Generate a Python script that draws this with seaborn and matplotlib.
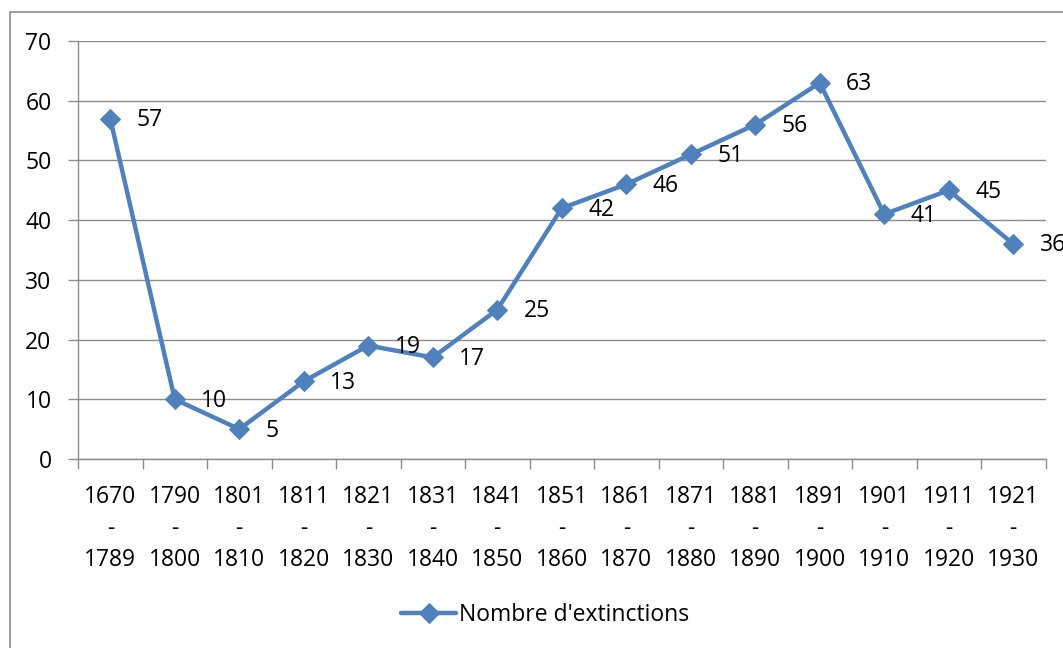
import numpy as np
import pandas as pd
import seaborn as sns
import matplotlib.pyplot as plt
from matplotlib.patches import Rectangle

periods = ["1670\n-\n1789", "1790\n-\n1800", "1801\n-\n1810", "1811\n-\n1820",
           "1821\n-\n1830", "1831\n-\n1840", "1841\n-\n1850", "1851\n-\n1860",
           "1861\n-\n1870", "1871\n-\n1880", "1881\n-\n1890", "1891\n-\n1900",
           "1901\n-\n1910", "1911\n-\n1920", "1921\n-\n1930"]
extinctions = [57, 10, 5, 13, 19, 17, 25, 42, 46, 51, 56, 63, 41, 45, 36]

df = pd.DataFrame({"periode": periods, "n": extinctions})
df["pos"] = np.arange(len(df))

sns.set_style("white")
plt.rcParams['font.family'] = ['Open Sans', 'DejaVu Sans']
plt.rcParams['text.color'] = 'black'
plt.rcParams['xtick.color'] = 'black'
plt.rcParams['ytick.color'] = 'black'

blue = "#4F81BD"
grey = "#8C8C8C"
fs = 16.5

fig = plt.figure(figsize=(10.63, 6.48), dpi=100)
ax = fig.add_axes([78/1063, 1-459/648, (1045.5-78)/1063, (459-41)/648])

# frame around the chart (cropped on the right and bottom)
fig.patches.append(Rectangle((10/1063, -0.1), 1.2, 1 - 12/648 + 0.1,
                             transform=fig.transFigure, fill=False,
                             edgecolor=grey, linewidth=1.2))

sns.lineplot(data=df, x="pos", y="n", ax=ax, color=blue, linewidth=3.2,
             marker="D", markersize=10, markeredgecolor=blue,
             label="Nombre d'extinctions")

for x, y in zip(df["pos"], df["n"]):
    ax.annotate(str(y), (x, y), xytext=(19, -1), textcoords="offset points",
                ha="left", va="center", fontsize=fs, color="black",
                annotation_clip=False)

ax.set_xlim(-0.5, len(df) - 0.5)
ax.set_ylim(0, 70)
ax.set_yticks(range(0, 71, 10))
ax.yaxis.grid(True, color=grey, linewidth=1.0)
ax.set_axisbelow(True)

ax.set_xticks(df["pos"])
ax.set_xticklabels(df["periode"], linespacing=1.40)
ax.set_xticks(np.arange(-0.5, len(df), 1), minor=True)
ax.tick_params(axis="x", which="major", length=0, pad=19, labelsize=fs,
               labelcolor="black")
ax.tick_params(axis="x", which="minor", length=7, color=grey, width=1.0,
               direction="out", bottom=True)
ax.tick_params(axis="y", length=7, color=grey, width=1.0, direction="out",
               left=True, pad=12, labelsize=fs, labelcolor="black")

for s in ["top", "right"]:
    ax.spines[s].set_visible(False)
for s in ["left", "bottom"]:
    ax.spines[s].set_color(grey)
    ax.spines[s].set_linewidth(1.0)

ax.set_xlabel("")
ax.set_ylabel("")

ax.legend(loc="center", bbox_to_anchor=(545/1063, 1-615/648),
          bbox_transform=fig.transFigure, frameon=False, fontsize=fs,
          handlelength=2.4, handletextpad=0.1)

fig.savefig("out.png", dpi=100)
